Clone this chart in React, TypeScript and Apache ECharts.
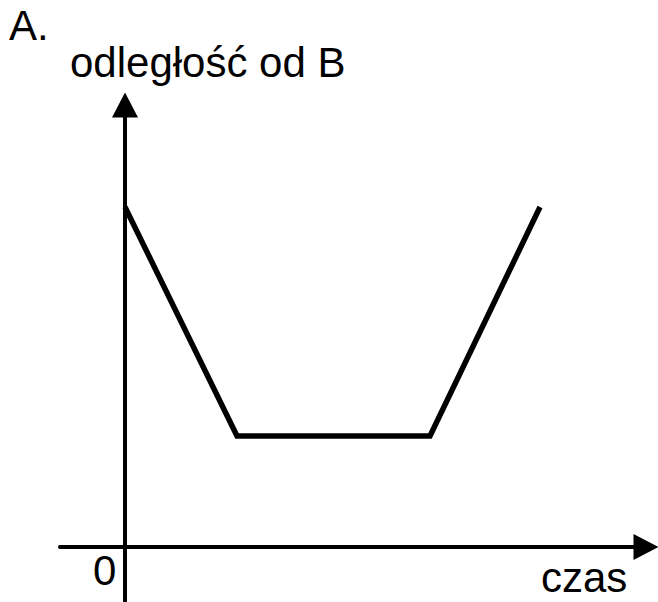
import React, { useEffect, useRef } from "react";
import * as echarts from "echarts";

// time (x) and distance from B (y)
const czas = [0, 1.12, 3.05, 4.15];
const odleglosc = [3.4, 1.11, 1.11, 3.4];
const xLabel = "czas";
const yLabel = "odległość od B";
const originLabel = "0";
const panelLabel = "A.";

const FONT = "'Liberation Sans', Arial, sans-serif";

export default function App() {
  const ref = useRef<HTMLDivElement>(null);
  useEffect(() => {
    document.body.style.margin = "0";
    const chart = echarts.init(ref.current!, null, { renderer: "svg" });
    const axisLine = (symbol: string[]) => ({
      show: true,
      onZero: true,
      symbol,
      symbolSize: [26, 25],
      lineStyle: { color: "#000", width: 4 },
    });
    chart.setOption({
      animation: false,
      backgroundColor: "#fff",
      grid: { left: 60, right: 12, top: 105, bottom: 0, containLabel: false },
      xAxis: {
        type: "value",
        min: -0.65,
        max: 5.21,
        axisLine: axisLine(["none", "triangle"]),
        axisTick: { show: false },
        axisLabel: { show: false },
        splitLine: { show: false },
      },
      yAxis: {
        type: "value",
        min: -0.55,
        max: 4.42,
        axisLine: axisLine(["none", "triangle"]),
        axisTick: { show: false },
        axisLabel: { show: false },
        splitLine: { show: false },
      },
      series: [
        {
          type: "line",
          data: czas.map((t, i) => [t, odleglosc[i]]),
          symbol: "none",
          lineStyle: { color: "#000", width: 5.5, join: "miter", cap: "butt" },
        },
      ],
      graphic: [
        { type: "text", left: 9, top: 4, style: { text: panelLabel, font: `42px ${FONT}`, fill: "#000" } },
        { type: "text", left: 70, top: 41, style: { text: yLabel, font: `42px ${FONT}`, fill: "#000" } },
        { type: "text", left: 93, top: 549, style: { text: originLabel, font: `42px ${FONT}`, fill: "#000" } },
        { type: "text", left: 541, top: 556, style: { text: xLabel, font: `42px ${FONT}`, fill: "#000" } },
      ],
    });
    return () => chart.dispose();
  }, []);
  return <div ref={ref} style={{ width: 658, height: 602 }} />;
}
